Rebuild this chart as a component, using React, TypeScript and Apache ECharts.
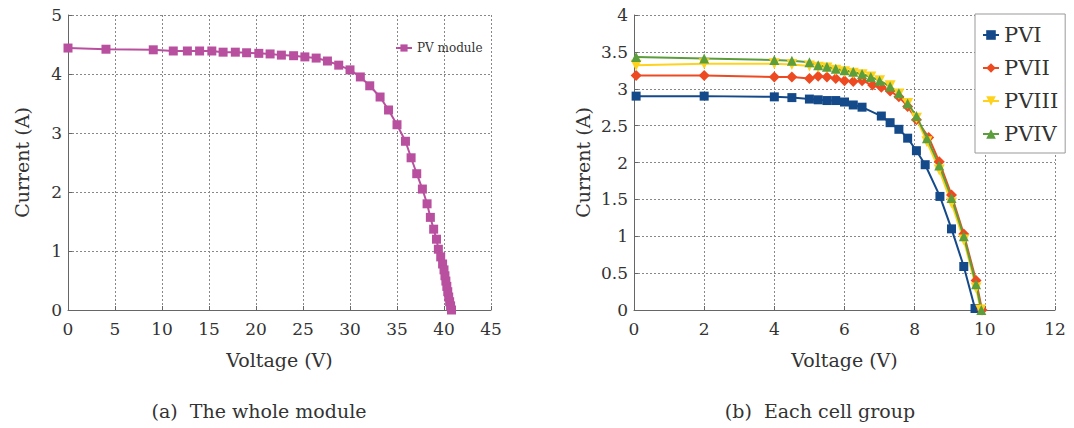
import React, { useEffect, useRef } from "react";
import * as echarts from "echarts";

// (a) whole module I-V curve
const moduleV = [0, 4.04, 9.07, 11.2, 12.7, 14.0, 15.3, 16.5, 17.8, 19.0, 20.3, 21.5, 22.7, 24.0, 25.2, 26.4, 27.6, 28.8, 30.0, 31.1, 32.1, 33.2, 34.1, 35.0, 35.9, 36.5, 37.1, 37.7, 38.2, 38.55, 38.9, 39.2, 39.4, 39.65, 39.85, 40.0, 40.1, 40.2, 40.3, 40.4, 40.5, 40.6, 40.7, 40.8];
const moduleI = [4.44, 4.42, 4.41, 4.39, 4.39, 4.39, 4.39, 4.37, 4.37, 4.36, 4.35, 4.34, 4.32, 4.31, 4.29, 4.27, 4.22, 4.15, 4.07, 3.95, 3.80, 3.61, 3.39, 3.14, 2.86, 2.58, 2.31, 2.05, 1.80, 1.57, 1.37, 1.20, 1.03, 0.90, 0.78, 0.68, 0.58, 0.49, 0.40, 0.31, 0.22, 0.14, 0.07, 0.0];

// (b) each cell group
const pv1V = [0.06, 2, 4, 4.5, 5, 5.25, 5.5, 5.75, 6, 6.25, 6.5, 7.05, 7.3, 7.55, 7.8, 8.05, 8.3, 8.72, 9.05, 9.4, 9.72];
const pv1I = [2.90, 2.90, 2.89, 2.88, 2.86, 2.85, 2.84, 2.84, 2.82, 2.78, 2.75, 2.63, 2.54, 2.45, 2.33, 2.16, 1.97, 1.54, 1.10, 0.59, 0.02];

const pv2V = [0.06, 2, 4, 4.5, 5, 5.25, 5.5, 5.75, 6, 6.25, 6.5, 6.8, 7.05, 7.3, 7.55, 7.8, 8.05, 8.4, 8.7, 9.05, 9.4, 9.75, 9.92];
const pv2I = [3.18, 3.18, 3.16, 3.16, 3.14, 3.17, 3.16, 3.14, 3.11, 3.10, 3.11, 3.05, 3.02, 2.97, 2.89, 2.76, 2.58, 2.34, 2.01, 1.56, 1.03, 0.40, 0.0];

const pv3V = [0.06, 2, 4, 4.5, 5, 5.25, 5.5, 5.75, 6, 6.25, 6.5, 6.75, 7, 7.3, 7.55, 7.8, 8.05, 8.35, 8.7, 9.05, 9.4, 9.75, 9.88];
const pv3I = [3.32, 3.34, 3.34, 3.33, 3.31, 3.29, 3.28, 3.25, 3.23, 3.21, 3.19, 3.16, 3.11, 3.04, 2.93, 2.80, 2.60, 2.28, 1.90, 1.45, 0.95, 0.30, 0.0];

const pv4V = [0.06, 2, 4, 4.5, 5, 5.25, 5.5, 5.75, 6, 6.25, 6.5, 6.75, 7, 7.3, 7.55, 7.8, 8.05, 8.35, 8.7, 9.05, 9.4, 9.75, 9.9];
const pv4I = [3.43, 3.41, 3.39, 3.38, 3.36, 3.32, 3.30, 3.27, 3.25, 3.23, 3.20, 3.16, 3.11, 3.03, 2.94, 2.80, 2.63, 2.33, 1.96, 1.52, 1.00, 0.35, 0.0];

const seriesNames = ["PVI", "PVII", "PVIII", "PVIV"];
const moduleName = "PV module";

const zip = (xs: number[], ys: number[]) => xs.map((x, i) => [x, ys[i]]);

const FONT = "DejaVu Serif";
const TXT = "#333";

function axisCommon() {
  return {
    axisLine: { show: true, lineStyle: { color: "#666", width: 1 } },
    axisTick: { show: true, inside: true, length: 4, lineStyle: { color: "#666" } },
    splitLine: { show: true, lineStyle: { color: "#888", type: [2, 2], width: 1 } },
    axisLabel: { color: TXT, fontFamily: FONT, fontSize: 17 },
    nameTextStyle: { color: TXT, fontFamily: FONT, fontSize: 19 },
  };
}

export default function App() {
  const ref = useRef<HTMLDivElement>(null);
  useEffect(() => {
    if (!ref.current) return;
    const chart = echarts.init(ref.current, null, { renderer: "svg" });
    const lineSeries = (name: string, data: number[][], color: string, symbol: string, size: number, idx: number) => ({
      name,
      type: "line",
      xAxisIndex: idx,
      yAxisIndex: idx,
      data,
      symbol,
      symbolSize: size,
      showSymbol: true,
      itemStyle: { color },
      lineStyle: { color, width: 2 },
    });
    chart.setOption({
      animation: false,
      backgroundColor: "#fff",
      textStyle: { fontFamily: FONT },
      grid: [
        { left: 68, top: 15, width: 423, height: 295 },
        { left: 634, top: 15, width: 421, height: 295 },
      ],
      xAxis: [
        { ...axisCommon(), type: "value", gridIndex: 0, min: 0, max: 45, interval: 5, name: "Voltage (V)", nameLocation: "middle", nameGap: 40, axisLabel: { ...axisCommon().axisLabel, margin: 10 } },
        { ...axisCommon(), type: "value", gridIndex: 1, min: 0, max: 12, interval: 2, name: "Voltage (V)", nameLocation: "middle", nameGap: 40, axisLabel: { ...axisCommon().axisLabel, margin: 10 } },
      ],
      yAxis: [
        { ...axisCommon(), type: "value", gridIndex: 0, min: 0, max: 5, interval: 1, name: "Current (A)", nameLocation: "middle", nameGap: 37, axisLabel: { ...axisCommon().axisLabel, margin: 6 } },
        { ...axisCommon(), type: "value", gridIndex: 1, min: 0, max: 4, interval: 0.5, name: "Current (A)", nameLocation: "middle", nameGap: 42, axisLabel: { ...axisCommon().axisLabel, margin: 6 } },
      ],
      legend: [
        {
          data: [moduleName],
          left: 390,
          top: 37,
          itemWidth: 16,
          itemHeight: 9,
          itemGap: 5,
          textStyle: { color: TXT, fontFamily: FONT, fontSize: 12 },
        },
        {
          data: seriesNames,
          orient: "vertical",
          left: 975,
          top: 14,
          itemWidth: 16,
          itemHeight: 12,
          itemGap: 9,
          padding: [9, 7, 7, 7],
          borderColor: "#999",
          borderWidth: 1,
          backgroundColor: "#fff",
          textStyle: { color: TXT, fontFamily: FONT, fontSize: 21, lineHeight: 24 },
        },
      ],
      title: [
        { text: "(a)  The whole module", left: 254, top: 396, textAlign: "center", textStyle: { color: TXT, fontFamily: FONT, fontSize: 19, fontWeight: "normal" } },
        { text: "(b)  Each cell group", left: 815, top: 396, textAlign: "center", textStyle: { color: TXT, fontFamily: FONT, fontSize: 19, fontWeight: "normal" } },
      ],
      series: [
        lineSeries(moduleName, zip(moduleV, moduleI), "#B8509F", "rect", 9, 0),
        lineSeries(seriesNames[0], zip(pv1V, pv1I), "#154A8A", "rect", 9, 1),
        lineSeries(seriesNames[1], zip(pv2V, pv2I), "#EE4A22", "diamond", 11, 1),
        lineSeries(seriesNames[2], zip(pv3V, pv3I), "#FFD21E", "path://M0,0L10,0L5,9Z", 11, 1),
        lineSeries(seriesNames[3], zip(pv4V, pv4I), "#5C9E3C", "triangle", 10, 1),
      ],
    });
    return () => chart.dispose();
  }, []);
  return <div ref={ref} style={{ position: "fixed", left: 0, top: 0, width: 1074, height: 428 }} />;
}
